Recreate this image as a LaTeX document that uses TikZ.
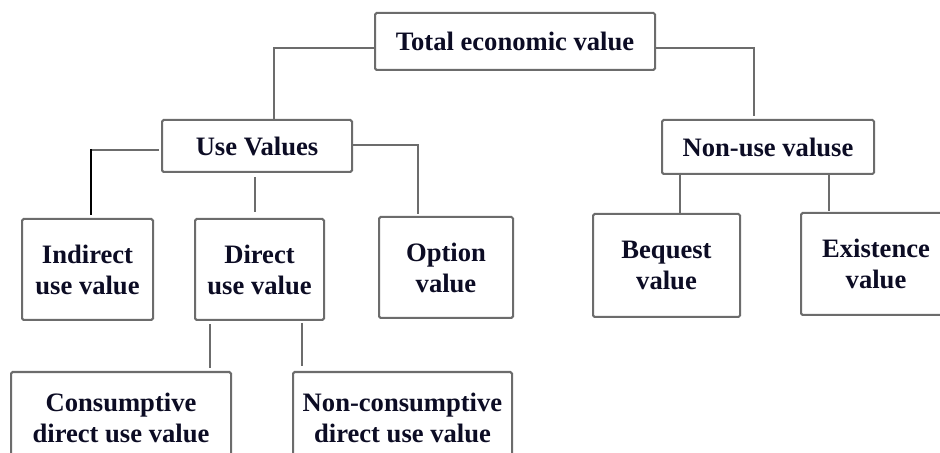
\documentclass[tikz,border=0pt]{standalone}
\usepackage{fontspec}
\setmainfont{Liberation Serif}
\usepackage{xcolor}
\usepackage{tikz}
\usetikzlibrary{calc,positioning}

\definecolor{boxgray}{RGB}{108,108,108}
\definecolor{txtblue}{RGB}{12,12,36}

\begin{document}
\begin{tikzpicture}[x=0.5pt,y=-0.5pt]

% \draw[step=20,gray,very thin] (0,0) grid (940,453);
\useasboundingbox (0,0) rectangle (940,453);
\clip (0,0) rectangle (940,453);

\tikzstyle{mybox} = [draw=boxgray, line width=1pt, fill=white, rectangle, rounded corners=0.8pt, inner sep=0pt, align=center, text=txtblue, font=\fontsize{13.3}{15.5}\selectfont\bfseries]
\tikzstyle{mylink} = [draw=boxgray, line width=1pt]

\node (tev) [mybox,minimum width=140pt,minimum height=28.5pt] at (515,41.5) {Total economic value};
\node (use) [mybox,minimum width=95pt,minimum height=26pt] at (257,146) {Use Values};
\node (nonuse) [mybox,minimum width=106pt,minimum height=27pt] at (768,147) {Non-use valuse};

\node (indirect) [mybox,minimum width=65.5pt,minimum height=50.5pt] at (87.5,269.5) {Indirect\\use value};
\node (direct) [mybox,minimum width=64.5pt,minimum height=50.5pt] at (259.5,269.5) {Direct\\use value};
\node (option) [mybox,minimum width=67pt,minimum height=50.5pt] at (446,267.5) {Option\\value};
\node (bequest) [mybox,minimum width=73.5pt,minimum height=51.5pt] at (666.5,265.5) {Bequest\\value};
\node (existence) [mybox,minimum width=75pt,minimum height=51pt] at (876,264) {Existence\\value};

\node (consump) [mybox,minimum width=110pt,minimum height=46pt] at (121,418) {Consumptive\\direct use value};
\node (nonconsump) [mybox,minimum width=109.5pt,minimum height=46pt] at (402.5,418) {Non-consumptive\\direct use value};

\coordinate (bend) at ($(indirect.north)+(3.5,-69)$);

\draw [mylink] ($(tev.west)+(0,7)$) -| ($(use.north)+(17,0)$);
\draw [mylink] ($(tev.east)+(0,7)$) -| ($(nonuse.north)+(-14,-3)$);

\draw [mylink] ($(use.west)+(-2,4)$) -| (bend);
\draw [black,line width=1.2pt] (bend) -- ($(indirect.north)+(3.5,-3)$);
\draw [mylink] ($(use.south)+(-2,4)$) -- ($(direct.north)+(-4.5,-6)$);
\draw [mylink] ($(use.east)+(0,-1)$) -| ($(option.north)+(-28,-2)$);

\draw [mylink] ($(nonuse.south)+(-88,-2)$) -- ($(bequest.north)+(13.5,0)$);
\draw [mylink] ($(nonuse.south)+(61,0)$) -- ($(existence.north)+(-47,-1)$);

\draw [mylink] ($(direct.south)+(-49.5,3)$) -- ($(consump.north)+(89,-3)$);
\draw [mylink] ($(direct.south)+(42.5,2)$) -- ($(nonconsump.north)+(-100.5,-5)$);

\end{tikzpicture}
\end{document}
